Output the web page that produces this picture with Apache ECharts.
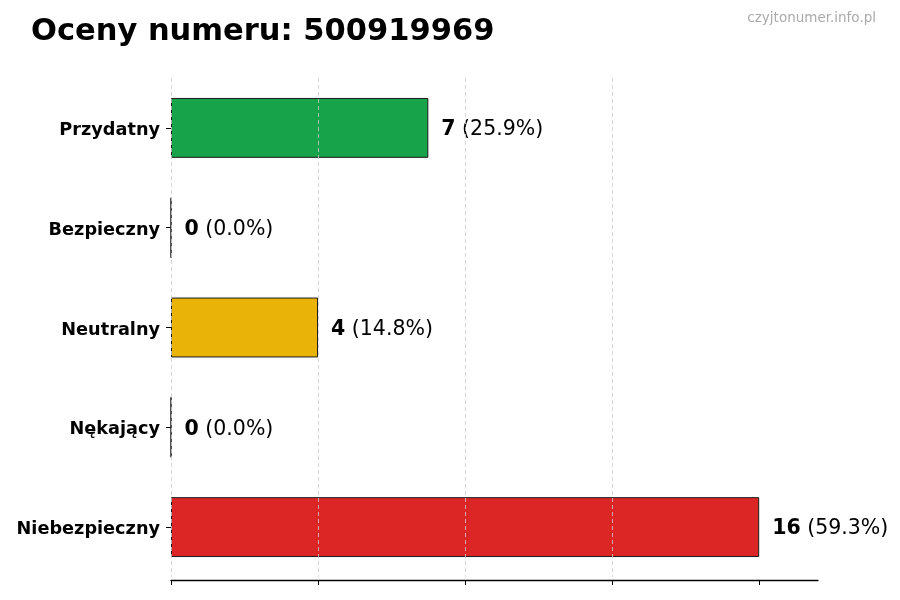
<!DOCTYPE html>
<html>
<head>
<meta charset="utf-8">
<script src="https://cdn.jsdelivr.net/npm/echarts@6/dist/echarts.min.js"></script>
<style>html,body{margin:0;padding:0;background:#fff;}#c{width:900px;height:600px;}</style>
</head>
<body>
<div id="c"></div>
<script>
const titleText = 'Oceny numeru: 500919969';
const watermark = 'czyjtonumer.info.pl';
const categories = ['Przydatny', 'Bezpieczny', 'Neutralny', 'Nękający', 'Niebezpieczny'];
const values = [7, 0, 4, 0, 16];
const barColors = ['#17a34a', '#17a34a', '#eab308', '#dc2626', '#dc2626'];
const xTicks = [0, 4, 8, 12, 16];

const total = values.reduce((a, b) => a + b, 0);
const F = 'DejaVu Sans';

const chart = echarts.init(document.getElementById('c'), null, {renderer: 'canvas'});
chart.setOption({
  backgroundColor: '#ffffff',
  animation: false,
  title: [{
    text: titleText, left: 31, top: 17, padding: 0,
    textStyle: {fontFamily: F, fontSize: 30.5, fontWeight: 'bold', color: '#000'}
  }, {
    text: watermark, right: 24, top: 11, padding: 0,
    textStyle: {fontFamily: F, fontSize: 13.5, fontWeight: 'normal', color: '#aaaaaa'}
  }],
  grid: {left: 171, right: 82, top: 78, bottom: 23, containLabel: false},
  xAxis: {
    type: 'value', min: 0, max: 17.6, interval: 4, z: 3, offset: 3,
    axisLine: {show: true, lineStyle: {color: '#000', width: 1.3}},
    axisTick: {show: true, length: 5, customValues: xTicks, lineStyle: {color: '#000', width: 1}},
    axisLabel: {show: false},
    splitLine: {show: true, showMaxLine: false, lineStyle: {color: '#cccccc', type: [4, 3], width: 0.8}}
  },
  yAxis: {
    type: 'category', data: categories, inverse: true,
    axisLine: {show: false},
    axisTick: {show: true, length: 5, alignWithLabel: true, lineStyle: {color: '#000'}},
    axisLabel: {
      margin: 11,
      formatter: v => '{a|' + v + '}',
      rich: {a: {fontFamily: F, fontSize: 17.7, fontWeight: 'bold', color: '#000', padding: [5, 0, 0, 0]}}
    },
    splitLine: {show: false}
  },
  series: [{
    type: 'bar', barWidth: '60%',
    data: values.map((v, i) => ({value: v, itemStyle: {color: barColors[i]}})),
    itemStyle: {borderColor: '#1a1a1a', borderWidth: 1},
    label: {
      show: true, position: 'right', distance: 13, offset: [0, 2],
      formatter: p => '{b|' + p.value + '}{n| (' + (total ? (p.value / total * 100) : 0).toFixed(1) + '%)}',
      rich: {
        b: {fontFamily: F, fontSize: 20.5, fontWeight: 'bold', color: '#000'},
        n: {fontFamily: F, fontSize: 20.5, fontWeight: 'normal', color: '#000'}
      }
    }
  }]
});
</script>
</body>
</html>
